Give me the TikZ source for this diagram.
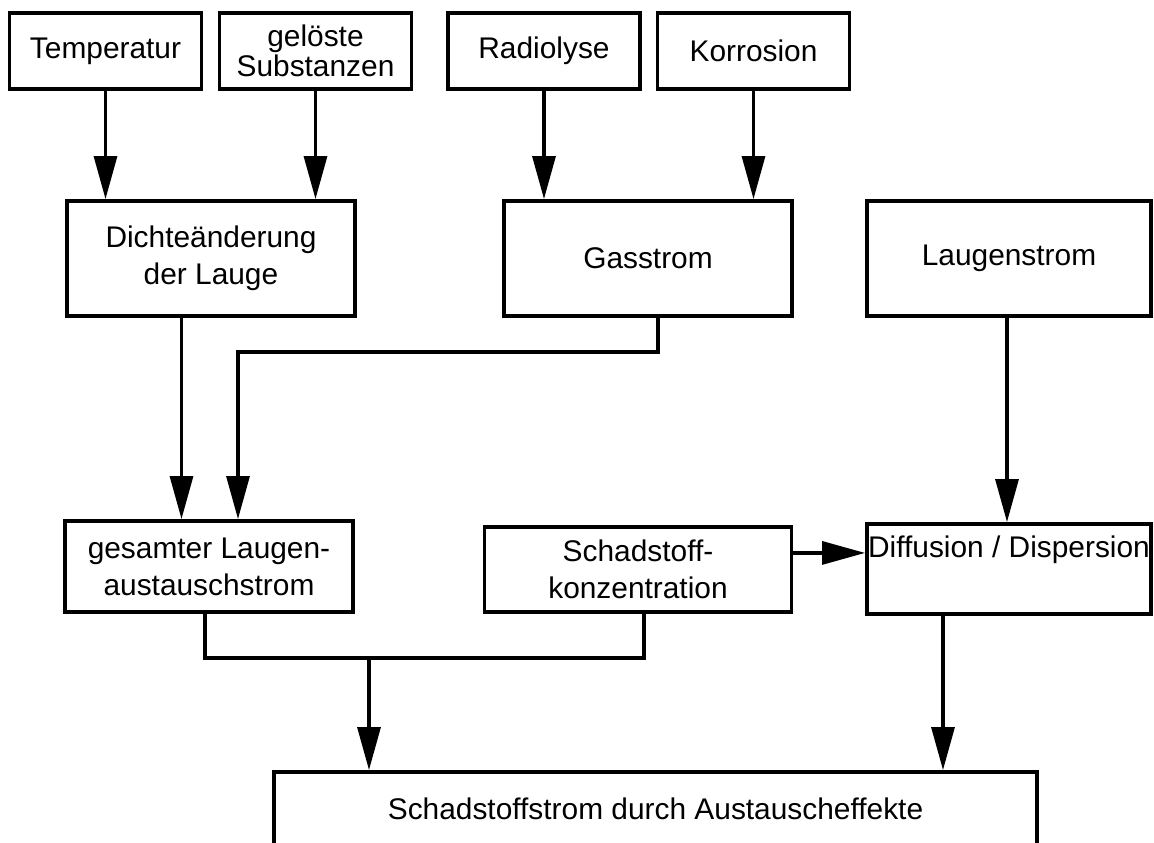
\documentclass[tikz,border=0pt]{standalone}
\usepackage{fontspec}
\setmainfont{Liberation Sans}
\usetikzlibrary{arrows.meta, positioning, calc}

\begin{document}
\begin{tikzpicture}[
    >={Triangle[length=0.86cm, width=0.46cm]},
    font=\fontsize{17}{21}\selectfont,
    topbox/.style={
        draw,
        line width=2.2pt,
        align=center,
        inner sep=0pt,
        minimum width=3.84cm,
        minimum height=1.52cm
    },
    midbox/.style={
        draw,
        line width=2.2pt,
        align=center,
        inner sep=0pt,
        minimum width=5.76cm,
        minimum height=2.3cm
    },
    lowbox/.style={
        draw,
        line width=2.2pt,
        align=center,
        inner sep=0pt,
        minimum width=5.76cm,
        minimum height=1.82cm
    },
    flow/.style={->, line width=1.8pt},
    link/.style={line width=1.8pt}
]
\useasboundingbox (0,0) rectangle (23.08,-16.86);

% sources
\node[topbox] (temp) at (2.11,-1.02) {Temperatur};
\node[topbox] (geloest) at (6.31,-1.02) {gelöste\\[-0.25em]Substanzen};
\node[topbox] (radio) at (10.88,-1.02) {Radiolyse};
\node[topbox] (korr) at (15.07,-1.02) {Korrosion};

% middle row
\node[midbox] (dichte) at (4.22,-5.17) {Dichteänderung\\der Lauge};
\node[midbox] (gas) at (12.96,-5.17) {Gasstrom};
\node[midbox, minimum width=5.68cm] (laugen) at (20.18,-5.17) {Laugenstrom};

\draw[flow] (temp.south) -- (temp.south |- dichte.north);
\draw[flow] (geloest.south) -- (geloest.south |- dichte.north);
\draw[flow] (radio.south) -- (radio.south |- gas.north);
\draw[flow] (korr.south) -- (korr.south |- gas.north);

% lower row
\node[lowbox] (gesamt) at (4.18,-11.33) {gesamter Laugen-\\austauschstrom};
\node[lowbox, minimum width=6.14cm, minimum height=1.7cm] (schad) at (12.76,-11.39)
{Schadstoff-\\konzentration};
\node[lowbox, minimum width=5.68cm, minimum height=1.8cm, text height=12pt, text depth=25pt]
(diff) at (20.18,-11.38) {Diffusion / Dispersion};

\coordinate (gasbend) at (4.76,-7.04);
\draw[flow] ([xshift=-0.59cm]dichte.south) -- ([xshift=-0.59cm]dichte.south |- gesamt.north);
\draw[flow] ([xshift=0.2cm]gas.south) |- (gasbend) -- (gasbend |- gesamt.north);
\draw[flow] ([xshift=-0.04cm]laugen.south) -- ([xshift=-0.04cm]laugen.south |- diff.north);
\draw[flow] (schad.east |- diff.mid west) -- (diff.mid west);

% result
\node[draw, line width=2.2pt, inner sep=0pt, minimum width=15.26cm, minimum height=1.48cm]
(result) at (13.11,-16.18) {Schadstoffstrom durch Austauscheffekte};

\coordinate (merge) at (7.38,-13.16);
\draw[link] ([xshift=-0.08cm]gesamt.south) |- (merge) -| ([xshift=0.12cm]schad.south);
\draw[flow] (merge) -- (merge |- result.north);
\draw[flow] ([xshift=-1.32cm]diff.south) -- ([xshift=-1.32cm]diff.south |- result.north);

\end{tikzpicture}
\end{document}
